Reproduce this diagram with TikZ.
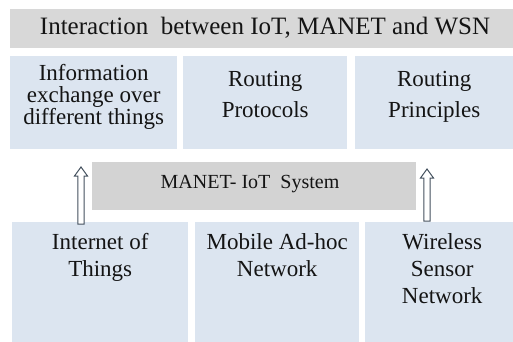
\documentclass[tikz,border=0pt]{standalone}
\usepackage{fontspec}
\setmainfont{Liberation Serif}
\definecolor{titlegray}{HTML}{D8D8D8}
\definecolor{midgray}{HTML}{D3D3D3}
\definecolor{boxblue}{HTML}{DCE5F0}
\definecolor{txtcol}{HTML}{141414}
\definecolor{arrcol}{HTML}{44515E}
\tikzset{
  bluebox/.style={fill=boxblue, draw=none, inner sep=0pt, anchor=north west},
  graybox/.style={fill=#1, draw=none, inner sep=0pt, anchor=north west},
  lbl/.style={text=txtcol, font=\fontsize{23}{22}\selectfont, align=center, inner sep=0pt, anchor=north},
  hollowarrow/.style={draw=arrcol, line width=1pt, fill=white, line join=miter},
}
\newcommand{\hollowup}[2]{% #1 = tip coordinate, #2 = base coordinate
  \draw[hollowarrow] ([xshift=-3.2pt]#2) -- ([xshift=-3.2pt,yshift=-9pt]#1)
    -- ([xshift=-6.5pt,yshift=-9pt]#1) -- (#1) -- ([xshift=6.5pt,yshift=-9pt]#1)
    -- ([xshift=3.2pt,yshift=-9pt]#1) -- ([xshift=3.2pt]#2) -- cycle;}
\begin{document}
\begin{tikzpicture}[x=1pt,y=1pt]
\useasboundingbox[fill=white] (0,0) rectangle (513,-342);
% title
\node[graybox=titlegray, minimum width=503pt, minimum height=39pt] (title) at (10,-9) {};
\node[text=txtcol, font=\fontsize{25}{25}\selectfont, inner sep=0pt] (titletxt) at (265,-28) {Interaction\ \ between IoT, MANET and WSN};
% top row
\node[bluebox, minimum width=167pt, minimum height=93pt] (t1) at (10,-56) {};
\node[bluebox, minimum width=164pt, minimum height=93pt] (t2) at (183,-56) {};
\node[bluebox, minimum width=158pt, minimum height=93pt] (t3) at (355,-56) {};
\node[lbl] (t1txt) at ([yshift=-8pt]t1.north) {Information\\exchange over\\different things};
\node[lbl] (t2txt) at ([yshift=-15pt]t2.north) {Routing\\[9pt]Protocols};
\node[lbl] (t3txt) at ([yshift=-15pt]t3.north) {Routing\\[9pt]Principles};
% middle
\node[graybox=midgray, minimum width=324pt, minimum height=48pt] (mid) at (92,-162) {};
\node[text=txtcol, font=\fontsize{20}{20}\selectfont, inner sep=0pt] (midtxt) at (250,-184) {MANET- IoT\ \ System};
% bottom row
\node[bluebox, minimum width=176pt, minimum height=120pt] (b1) at (12,-222) {};
\node[bluebox, minimum width=164pt, minimum height=120pt] (b2) at (195,-222) {};
\node[bluebox, minimum width=148pt, minimum height=120pt] (b3) at (365,-222) {};
\node[lbl] (b1txt) at ([yshift=-11pt]b1.north) {Internet of\\[5pt]Things};
\node[lbl] (b2txt) at ([yshift=-11pt]b2.north) {Mobile Ad-hoc\\[5pt]Network};
\node[lbl] (b3txt) at ([xshift=3pt,yshift=-11pt]b3.north) {Wireless\\[5pt]Sensor\\[5pt]Network};
% arrows
\coordinate (a1) at (81,-167);
\coordinate (a2) at (427,-169);
\coordinate (a1b) at ([yshift=-2pt]a1 |- b1.north);
\coordinate (a2b) at ([yshift=1pt]a2 |- b3.north);
\hollowup{a1}{a1b}
\hollowup{a2}{a2b}
\end{tikzpicture}
\end{document}
